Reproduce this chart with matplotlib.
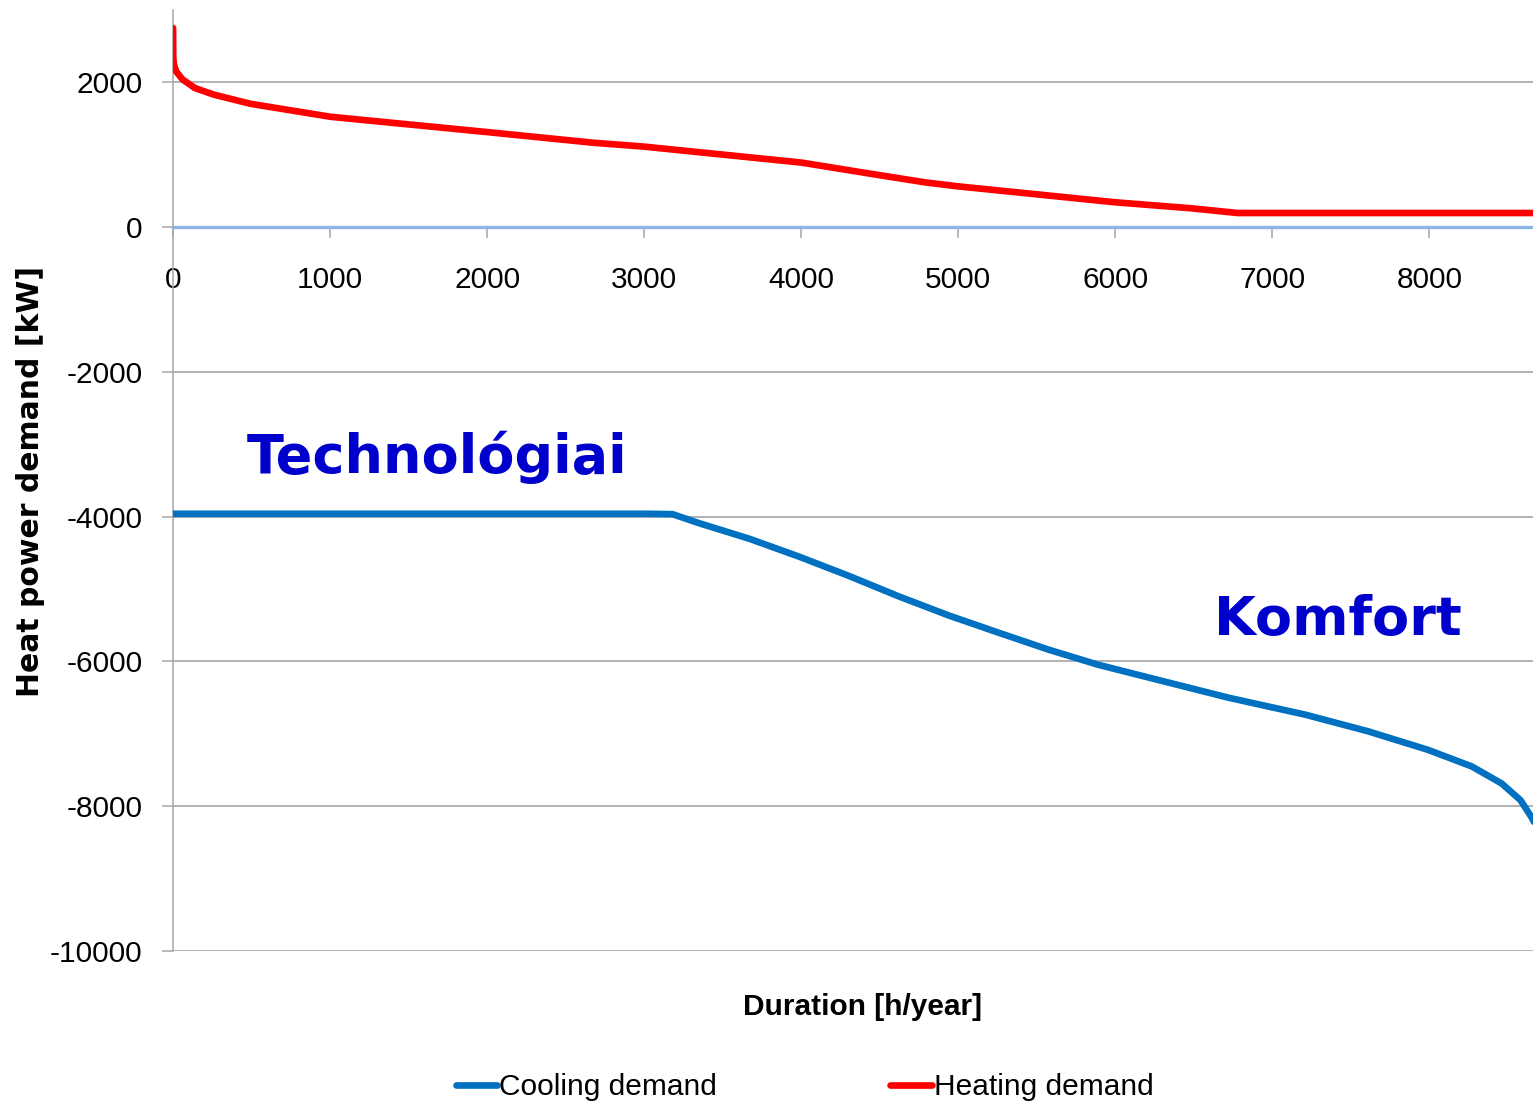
import numpy as np
import matplotlib.pyplot as plt
from matplotlib.lines import Line2D
from matplotlib.ticker import FuncFormatter

# ---- Datos -------------------------
heat_h = [0, 1, 5, 20, 60, 140, 260, 490, 1000, 2000, 2670, 3000,
          4000, 4420, 4790, 5000, 6000, 6480, 6780, 8760]
heat_kw = [2750, 2350, 2250, 2150, 2040, 1920, 1830, 1705, 1525, 1313, 1167, 1112,
           892, 745, 618, 563, 343, 261, 195, 195]

cool_h = [0, 3030, 3180, 3350, 3670, 3990, 4300, 4620, 4940, 5260, 5580, 5890,
          6300, 6720, 7210, 7610, 7990, 8270, 8460, 8580, 8650, 8760]
cool_kw = [-3960, -3960, -3965, -4090, -4305, -4555, -4815, -5100, -5365, -5605, -5840, -6045,
           -6270, -6500, -6735, -6965, -7220, -7450, -7685, -7915, -8150, -8600]

y_ticks = [-10000, -8000, -6000, -4000, -2000, 0, 2000]
x_ticks = [0, 1000, 2000, 3000, 4000, 5000, 6000, 7000, 8000]

SANS = ['Liberation Sans', 'DejaVu Sans']
BOLD = ['DejaVu Sans', 'Liberation Sans']
# ------------------------------------

fig = plt.figure(figsize=(15.33, 11.07), dpi=100)
ax = fig.add_axes([0.1129, 0.1409, 0.8871, 0.8501])

ax.plot(cool_h, cool_kw, color='#0070C0', lw=4.8, solid_capstyle='round', zorder=3)
ax.plot(heat_h, heat_kw, color='#FF0000', lw=4.8, solid_capstyle='round', zorder=3)

ax.set_xlim(0, 8660)
ax.set_ylim(-10000, 3000)

ax.set_yticks(y_ticks)
ax.set_xticks(x_ticks)
ax.yaxis.set_major_formatter(FuncFormatter(lambda v, p: str(int(v))))   # guion normal
ax.yaxis.grid(True, color='#A6A6A6', lw=1.2)
ax.set_axisbelow(True)

ax.spines['top'].set_visible(False)
ax.spines['right'].set_visible(False)
ax.spines['left'].set_color('#A6A6A6')
ax.spines['left'].set_linewidth(1.1)
ax.spines['bottom'].set_position(('data', 0))
ax.spines['bottom'].set_color('#8EB4E3')
ax.spines['bottom'].set_linewidth(2.4)
ax.spines['bottom'].set_zorder(2)

ax.tick_params(axis='y', length=8, width=1.1, color='#A6A6A6', pad=14)
ax.tick_params(axis='x', direction='out', length=8, width=1.1, color='#A6A6A6', pad=20)
for lab in ax.get_xticklabels() + ax.get_yticklabels():
    lab.set_family(SANS)
    lab.set_fontsize(21.5)

fig.text(0.0196, 0.5655, 'Heat power demand [kW]', rotation=90, ha='center', va='center',
         family=BOLD, fontweight='bold', fontsize=21.5)
fig.text(0.5623, 0.0903, 'Duration [h/year]', ha='center', va='center',
         family=SANS, fontweight='bold', fontsize=21.5)

ax.text(470, -3180, 'Technológiai', color='#0000CC', fontsize=39, fontweight='bold',
        family=BOLD, va='center', ha='left')
ax.text(6630, -5430, 'Komfort', color='#0000CC', fontsize=39, fontweight='bold',
        family=BOLD, va='center', ha='left')

handles = [Line2D([], [], color='#0070C0', lw=4.8, solid_capstyle='round'),
           Line2D([], [], color='#FF0000', lw=4.8, solid_capstyle='round')]
fig.legend(handles, ['Cooling demand', 'Heating demand'], loc='center',
           bbox_to_anchor=(0.525, 0.018), ncol=2, frameon=False,
           prop={'family': SANS, 'size': 21.5}, handlelength=1.4,
           handletextpad=0.07, columnspacing=5.8)

fig.savefig('out.png', dpi=100)
